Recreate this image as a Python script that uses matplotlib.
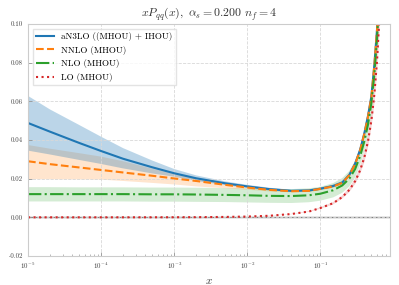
import matplotlib
matplotlib.use('Agg')
import matplotlib.pyplot as plt
from matplotlib.ticker import FormatStrFormatter, LogLocator

plt.rcParams['font.family'] = ['cmr10', 'DejaVu Serif']
plt.rcParams['mathtext.fontset'] = 'cm'
plt.rcParams['axes.formatter.use_mathtext'] = True

# x grid
x = [1e-5, 2e-5, 5e-5, 1e-4, 2e-4, 5e-4, 1e-3, 2e-3, 5e-3, 1e-2, 2e-2, 4e-2, 7e-2,
     0.1, 0.15, 0.2, 0.25, 0.3, 0.35, 0.4, 0.45, 0.5, 0.55, 0.6, 0.65, 0.7]

# aN3LO ((MHOU) + IHOU)
n3lo = [0.0488, 0.0443, 0.0385, 0.0343, 0.0303, 0.0259, 0.0228, 0.0202, 0.0176, 0.0160,
        0.0146, 0.0137, 0.0139, 0.0148, 0.0162, 0.0180, 0.0220, 0.0278, 0.0348, 0.0433,
        0.0525, 0.0625, 0.0790, 0.0980, 0.1230, 0.1560]
n3lo_hi = [0.0628, 0.0558, 0.0478, 0.0417, 0.0358, 0.0294, 0.0250, 0.0217, 0.0186, 0.0168,
           0.0153, 0.0143, 0.0145, 0.0154, 0.0169, 0.0188, 0.0229, 0.0289, 0.0362, 0.0450,
           0.0546, 0.0650, 0.0822, 0.1019, 0.1279, 0.1622]
n3lo_lo = [0.0345, 0.0325, 0.0297, 0.0276, 0.0253, 0.0227, 0.0210, 0.0188, 0.0167, 0.0152,
           0.0139, 0.0131, 0.0133, 0.0142, 0.0155, 0.0172, 0.0211, 0.0267, 0.0334, 0.0416,
           0.0504, 0.0600, 0.0758, 0.0941, 0.1181, 0.1498]

# NNLO (MHOU)
nnlo = [0.0290, 0.0275, 0.0258, 0.0245, 0.0232, 0.0215, 0.0201, 0.0188, 0.0168, 0.0154,
        0.0142, 0.0135, 0.0137, 0.0147, 0.0160, 0.0178, 0.0218, 0.0276, 0.0345, 0.0430,
        0.0520, 0.0620, 0.0785, 0.0975, 0.1225, 0.1550]
nnlo_hi = [0.0374, 0.0355, 0.0332, 0.0314, 0.0290, 0.0252, 0.0224, 0.0203, 0.0180, 0.0164,
           0.0150, 0.0141, 0.0143, 0.0154, 0.0167, 0.0186, 0.0227, 0.0287, 0.0359, 0.0447,
           0.0541, 0.0645, 0.0816, 0.1014, 0.1274, 0.1612]
nnlo_lo = [0.0198, 0.0197, 0.0196, 0.0195, 0.0188, 0.0178, 0.0170, 0.0160, 0.0150, 0.0143,
           0.0134, 0.0129, 0.0131, 0.0140, 0.0153, 0.0170, 0.0209, 0.0265, 0.0331, 0.0413,
           0.0499, 0.0595, 0.0754, 0.0936, 0.1176, 0.1488]

# NLO (MHOU)
nlo = [0.0120, 0.0120, 0.0120, 0.0120, 0.0120, 0.0119, 0.0119, 0.0118, 0.0116, 0.0114,
       0.0111, 0.0110, 0.0114, 0.0122, 0.0140, 0.0165, 0.0200, 0.0250, 0.0315, 0.0392,
       0.0480, 0.0590, 0.0740, 0.0930, 0.1180, 0.1500]
nlo_hi = [0.0156, 0.0156, 0.0155, 0.0155, 0.0155, 0.0154, 0.0154, 0.0153, 0.0151, 0.0149,
          0.0147, 0.0146, 0.0150, 0.0158, 0.0177, 0.0203, 0.0240, 0.0293, 0.0361, 0.0442,
          0.0534, 0.0649, 0.0805, 0.1002, 0.1260, 0.1590]
nlo_lo = [0.0082, 0.0082, 0.0082, 0.0082, 0.0082, 0.0081, 0.0081, 0.0080, 0.0079, 0.0077,
          0.0075, 0.0074, 0.0078, 0.0086, 0.0103, 0.0127, 0.0160, 0.0207, 0.0269, 0.0342,
          0.0426, 0.0531, 0.0675, 0.0858, 0.1100, 0.1410]

# LO (MHOU)
lo = [0.0, 0.0, 0.0, 0.0, 0.00001, 0.00002, 0.00004, 0.00008, 0.0002, 0.0004,
      0.0008, 0.0017, 0.0030, 0.0048, 0.0073, 0.0105, 0.0142, 0.0187, 0.0242, 0.0309,
      0.0394, 0.0500, 0.0637, 0.0816, 0.1057, 0.1390]
lo_hi = [0.0, 0.0, 0.0, 0.0, 0.00001, 0.00002, 0.00004, 0.00009, 0.0002, 0.0004,
         0.0009, 0.0018, 0.0032, 0.0052, 0.0079, 0.0113, 0.0153, 0.0202, 0.0261, 0.0334,
         0.0426, 0.0540, 0.0688, 0.0881, 0.1142, 0.1500]
lo_lo = [0.0, 0.0, 0.0, 0.0, 0.00001, 0.00002, 0.00004, 0.00007, 0.0002, 0.0004,
         0.0007, 0.0016, 0.0028, 0.0044, 0.0067, 0.0097, 0.0131, 0.0172, 0.0223, 0.0284,
         0.0362, 0.0460, 0.0586, 0.0751, 0.0972, 0.1280]

fig = plt.figure(figsize=(3.99, 2.85), dpi=100)
ax = fig.add_axes([0.0702, 0.1018, 0.9068, 0.814])

ax.fill_between(x, nnlo_lo, nnlo_hi, color='C1', alpha=0.2, lw=0)
ax.fill_between(x, n3lo_lo, n3lo_hi, color='C0', alpha=0.3, lw=0)
ax.fill_between(x, nlo_lo, nlo_hi, color='C2', alpha=0.2, lw=0)
ax.fill_between(x, lo_lo, lo_hi, color='C3', alpha=0.2, lw=0)

ax.axhline(0, color='gray', lw=1, zorder=1)

ax.plot(x, n3lo, color='C0', lw=1.5, label='aN3LO ((MHOU) + IHOU)')
ax.plot(x, nnlo, color='C1', lw=1.5, ls='--', label='NNLO (MHOU)')
ax.plot(x, nlo, color='C2', lw=1.5, ls='-.', label='NLO (MHOU)')
ax.plot(x, lo, color='C3', lw=1.5, ls=':', label='LO (MHOU)')

ax.set_xscale('log')
ax.set_xlim(1e-5, 0.895)
ax.set_ylim(-0.02, 0.10)
ax.yaxis.set_major_formatter(FormatStrFormatter('%.2f'))
ax.xaxis.set_major_locator(LogLocator(base=10, numticks=10))
ax.grid(True, ls='--', color='#d8d8d8', lw=0.6)
ax.tick_params(which='both', direction='in', labelsize=5, colors='#888888',
               labelcolor='#444444')
ax.tick_params(which='major', length=3, width=0.5)
ax.tick_params(which='minor', length=1.5, width=0.4)
for s in ax.spines.values():
    s.set_color('#cccccc')

ax.set_title(r'$xP_{qq}(x),\ \alpha_s=$0.200 $n_f=$4', fontsize=8.5, color='#333333', pad=5)
ax.set_xlabel('$x$', fontsize=8, color='#333333')
ax.legend(loc='upper left', fontsize=6.5, frameon=True, edgecolor='#dddddd',
          fancybox=False, framealpha=0.8)

fig.savefig('out.png', dpi=100)
